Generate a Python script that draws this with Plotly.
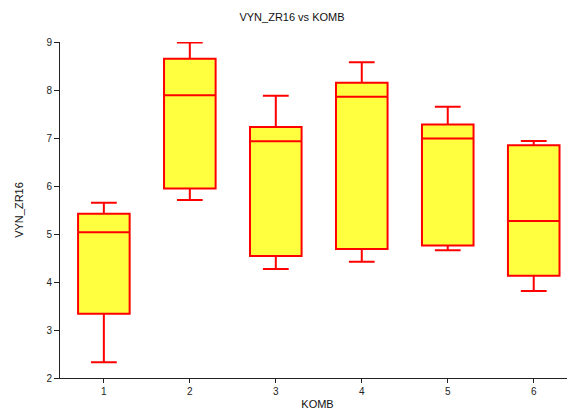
import plotly.graph_objects as go

categories = [1, 2, 3, 4, 5, 6]
lower_whisker = [2.33, 5.71, 4.27, 4.42, 4.66, 3.81]
q1_values = [3.34, 5.95, 4.54, 4.69, 4.76, 4.13]
median_values = [5.035, 7.89, 6.93, 7.86, 6.99, 5.27]
q3_values = [5.42, 8.65, 7.23, 8.15, 7.28, 6.85]
upper_whisker = [5.65, 8.99, 7.88, 8.58, 7.65, 6.94]
y_ticks = [2, 3, 4, 5, 6, 7, 8, 9]

fig = go.Figure()
fig.add_trace(go.Box(
    x=categories,
    q1=q1_values,
    median=median_values,
    q3=q3_values,
    lowerfence=lower_whisker,
    upperfence=upper_whisker,
    width=0.6,
    whiskerwidth=0.5,
    fillcolor="#FFFF40",
    line=dict(color="#FF0000", width=2),
    boxpoints=False,
    showlegend=False,
    hoverinfo="skip",
))

font = "Liberation Sans, Arial, sans-serif"
W, H = 567, 406
fig.update_layout(
    width=W, height=H,
    margin=dict(l=52, r=0, t=34, b=36, autoexpand=False),
    paper_bgcolor="white", plot_bgcolor="white",
    font=dict(family=font, size=10, color="#222"),
    title=dict(text="VYN_ZR16 vs KOMB", x=284 / W, xanchor="center",
               y=1 - 9 / H, yanchor="middle",
               font=dict(size=11, color="#111", family=font)),
    showlegend=False,
)
fig.update_xaxes(
    range=[0.49, 6.48], tickmode="array", tickvals=categories,
    showline=True, linecolor="#222", linewidth=1,
    ticks="outside", ticklen=4, tickcolor="#222",
    showgrid=False, zeroline=False, automargin=False,
    tickfont=dict(size=10, color="#222"),
    title=dict(text="KOMB", font=dict(size=11, color="#111"), standoff=4),
)
fig.update_yaxes(
    range=[2, 9], tickmode="array", tickvals=y_ticks,
    showline=True, linecolor="#222", linewidth=1,
    ticks="outside", ticklen=5, tickcolor="#222",
    showgrid=False, zeroline=False, automargin=False,
    tickfont=dict(size=10, color="#222"),
    title=dict(text="VYN_ZR16", font=dict(size=11, color="#111"), standoff=20),
)

fig.write_html("out.html")
